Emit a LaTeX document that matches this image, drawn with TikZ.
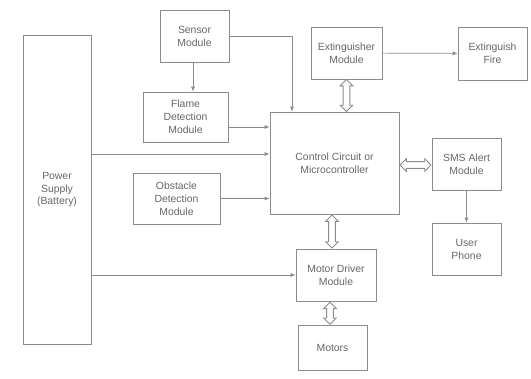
\documentclass[tikz,border=0pt]{standalone}
\usepackage{fontspec}
\setmainfont{Liberation Sans}
\usetikzlibrary{arrows.meta, shapes.arrows, calc}
\definecolor{boxline}{gray}{0.55}
\definecolor{boxtext}{gray}{0.4}
\tikzset{
  block/.style={draw=boxline, line width=0.5pt, align=center, text=boxtext,
    font=\fontsize{7.4}{9.2}\selectfont, inner sep=1pt},
  wire/.style={draw=boxline, line width=0.5pt, -{Latex[length=3.5pt,width=2.8pt]}},
  bus/.style={double arrow, draw=boxline, line width=0.6pt, fill=white,
    inner sep=2.1pt, double arrow head extend=2.1pt, double arrow head indent=0pt},
}
\begin{document}
\begin{tikzpicture}[x=0.025cm, y=-0.025cm]
  \useasboundingbox (0,0) rectangle (531,378);

  % Left: power and sensing
  \node[block, minimum width=68*0.025cm, minimum height=309*0.025cm] (power) at (57, 189.5) {Power\\Supply\\(Battery)};
  \node[block, minimum width=69*0.025cm, minimum height=52*0.025cm] (sensor) at (194.5, 36) {Sensor\\Module};
  \node[block, minimum width=85*0.025cm, minimum height=50*0.025cm] (flame) at (185.5, 117) {Flame\\Detection\\Module};
  \node[block, minimum width=87*0.025cm, minimum height=51*0.025cm] (obstacle) at (176.5, 198.5) {Obstacle\\Detection\\Module};

  % Centre: controller and drive
  \node[block, minimum width=129*0.025cm, minimum height=102*0.025cm] (ctrl) at (334.5, 163) {Control Circuit or\\Microcontroller};
  \node[block, minimum width=80*0.025cm, minimum height=52*0.025cm] (driver) at (336, 275) {Motor Driver\\Module};
  \node[block, minimum width=69*0.025cm, minimum height=45*0.025cm] (motors) at (332.5, 348) {Motors};

  % Right: outputs
  \node[block, minimum width=71*0.025cm, minimum height=52*0.025cm] (extinguisher) at (346.5, 53) {Extinguisher\\Module};
  \node[block, minimum width=69*0.025cm, minimum height=53*0.025cm] (fire) at (492.5, 53.5) {Extinguish\\Fire};
  \node[block, minimum width=69*0.025cm, minimum height=52*0.025cm] (sms) at (466.5, 164) {SMS Alert\\Module};
  \node[block, minimum width=69*0.025cm, minimum height=52*0.025cm] (phone) at (466.5, 249) {User\\Phone};

  % single arrows
  \draw[wire] (sensor.east) -| (292,0 |- ctrl.north);
  \draw[wire] (193,0 |- sensor.south) -- (193,0 |- flame.north);
  \draw[wire] (flame.east |- 0,127) -- (ctrl.west |- 0,127);
  \draw[wire] (power.east |- 0,154) -- (ctrl.west |- 0,154);
  \draw[wire] (obstacle.east) -- (obstacle -| ctrl.west);
  \draw[wire] (power.east |- driver) -- (driver.west);
  \draw[wire] (extinguisher) -- (fire);
  \draw[wire] (sms) -- (phone);

  % two-way links
  \node[bus, rotate=90, minimum height=32*0.025cm] (linkext) at ($(extinguisher.south)!0.5!(extinguisher |- ctrl.north)$) {};
  \node[bus, minimum height=31*0.025cm] (linksms) at ($(ctrl.east |- 0,165)!0.5!(sms.west |- 0,165)$) {};
  \node[bus, rotate=90, minimum height=33*0.025cm] (linkdrv) at ($(332,0 |- ctrl.south)!0.5!(332,0 |- driver.north)$) {};
  \node[bus, rotate=90, minimum height=22*0.025cm] (linkmot) at ($(330,0 |- driver.south)!0.5!(330,0 |- motors.north)$) {};
\end{tikzpicture}
\end{document}
